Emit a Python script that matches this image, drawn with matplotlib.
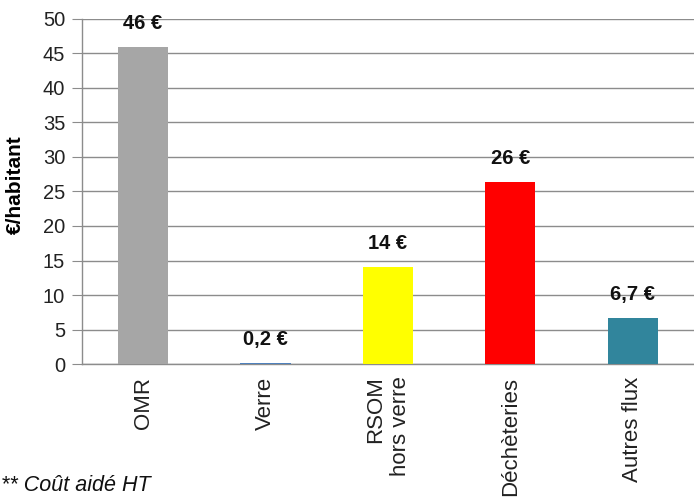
import matplotlib.pyplot as plt
import numpy as np

plt.rcParams['font.family'] = ['Liberation Sans', 'DejaVu Sans']

# Données
categories = ['OMR', 'Verre', 'RSOM\nhors verre', 'Déchèteries', 'Autres flux']
values = [45.9, 0.2, 14.1, 26.4, 6.7]
labels = ['46 €', '0,2 €', '14 €', '26 €', '6,7 €']
colors = ['#A6A6A6', '#4F81BD', '#FFFF00', '#FF0000', '#31859C']

fig = plt.figure(figsize=(6.94, 4.99), dpi=100)
ax = fig.add_axes([0.118, 0.2705, 0.882, 0.6915])

x = np.arange(len(categories))
bars = ax.bar(x, values, width=0.41, color=colors, zorder=3)

# Étiquettes des valeurs
for xi, v, lab in zip(x, values, labels):
    ax.annotate(lab, (xi, v), xytext=(0, 17), textcoords='offset points',
                ha='center', va='center', fontsize=14.5, fontweight='bold',
                color='#111111')

ax.set_xlim(-0.5, len(categories) - 0.5)
ax.set_ylim(0, 50)
ax.set_yticks(np.arange(0, 51, 5))
ax.yaxis.grid(True, color='#8C8C8C', linewidth=1.0, zorder=0)
ax.set_axisbelow(True)

for s in ['top', 'right']:
    ax.spines[s].set_visible(False)
for s in ['left', 'bottom']:
    ax.spines[s].set_color('#8C8C8C')
    ax.spines[s].set_linewidth(1.0)

ax.tick_params(axis='y', length=7, color='#8C8C8C', labelsize=14.5,
               labelcolor='#222222', pad=5)
ax.set_xticks(x)
ax.set_xticklabels(categories, rotation=90, fontsize=16, color='#222222',
                   multialignment='right')
ax.tick_params(axis='x', length=0, pad=9)

ax.set_ylabel('€/habitant', fontsize=15, fontweight='bold')
ax.yaxis.set_label_coords(-0.093, 0.52)

fig.text(0.002, 0.028, '** Coût aidé HT', fontsize=15.5, style='italic',
         color='#111111', va='center', ha='left')

fig.savefig('out.png', dpi=100)
